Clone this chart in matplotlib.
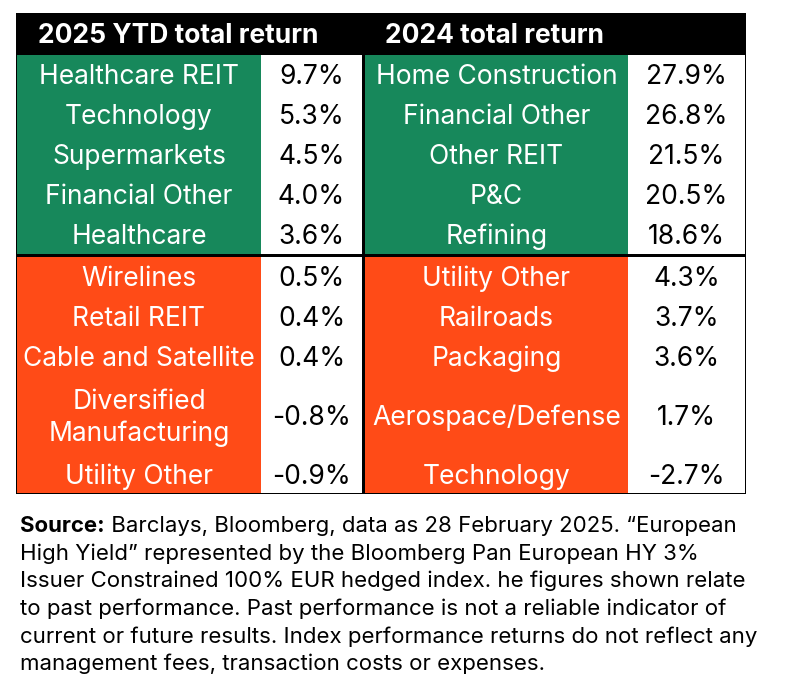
import matplotlib.pyplot as plt
from matplotlib.patches import Rectangle

# Table data
headers = ['2025 YTD total return', '2024 total return']

ytd_names = ['Healthcare REIT', 'Technology', 'Supermarkets', 'Financial Other', 'Healthcare',
             'Wirelines', 'Retail REIT', 'Cable and Satellite', 'Diversified\nManufacturing', 'Utility Other']
ytd_values = [9.7, 5.3, 4.5, 4.0, 3.6, 0.5, 0.4, 0.4, -0.8, -0.9]

y2024_names = ['Home Construction', 'Financial Other', 'Other REIT', 'P&C', 'Refining',
               'Utility Other', 'Railroads', 'Packaging', 'Aerospace/Defense', 'Technology']
y2024_values = [27.9, 26.8, 21.5, 20.5, 18.6, 4.3, 3.7, 3.6, 1.7, -2.7]

footnote_bold = 'Source:'
footnote_lines = [
    ' Barclays, Bloomberg, data as 28 February 2025. \u201cEuropean',
    'High Yield\u201d represented by the Bloomberg Pan European HY 3%',
    'Issuer Constrained 100% EUR hedged index. he figures shown relate',
    'to past performance. Past performance is not a reliable indicator of',
    'current or future results. Index performance returns do not reflect any',
    'management fees, transaction costs or expenses.',
]

GREEN = '#17885B'
ORANGE = '#FF4B17'
FONT = 'Inter'

W, H = 796, 693
fig = plt.figure(figsize=(W / 100, H / 100), dpi=100)
ax = fig.add_axes([0, 0, 1, 1])
ax.set_xlim(0, W)
ax.set_ylim(H, 0)
ax.axis('off')

# layout in pixels
left, right = 16, 746
top, head_bot = 13, 54
row_h = [40, 40, 40, 40, 40, 41, 40, 40, 79, 38]
# column edges: name cell, value cell for each half
cols = [(17, 261, 362), (365, 628, 745)]

# header
ax.add_patch(Rectangle((left, top), right - left, head_bot - top, color='black', lw=0))
ax.text(38, 36, headers[0], color='white', fontsize=19, fontweight='bold',
        family=FONT, va='center', ha='left')
ax.text(385, 36, headers[1], color='white', fontsize=19, fontweight='bold',
        family=FONT, va='center', ha='left')

# body background (black shows through as grid lines)
ax.add_patch(Rectangle((left, head_bot), right - left, 494 - head_bot, color='black', lw=0))

for names, values, (x0, x1, x2) in zip([ytd_names, y2024_names], [ytd_values, y2024_values], cols):
    y = head_bot + 1
    for i, (name, val) in enumerate(zip(names, values)):
        h = row_h[i]
        y0 = y
        y1 = y + h
        if i == 5:
            y0 += 2  # black separator between green and orange blocks
        if i == 4:
            y1 -= 1
        colour = GREEN if i < 5 else ORANGE
        ax.add_patch(Rectangle((x0, y0), x1 - x0, y1 - y0, color=colour, lw=0))
        ax.add_patch(Rectangle((x1, y0), x2 - x1, y1 - y0, color='white', lw=0))
        cy = (y0 + y1) / 2 + 2.5
        ax.text((x0 + x1) / 2, cy, name, color='white', fontsize=19, family=FONT,
                ha='center', va='center', linespacing=1.3)
        ax.text((x1 + x2) / 2, cy, f'{val:.1f}%', color='black', fontsize=19, family=FONT,
                ha='center', va='center')
        y += h

# footnote
fig.canvas.draw()
renderer = fig.canvas.get_renderer()
line_y0, line_step = 526, 27.6
t = ax.text(20, line_y0, footnote_bold, fontsize=16, fontweight='bold', family=FONT,
            va='center', ha='left', color='black')
bb = t.get_window_extent(renderer)
x_after = ax.transData.inverted().transform((bb.x1, bb.y0))[0]
for i, line in enumerate(footnote_lines):
    x = x_after if i == 0 else 20
    ax.text(x, line_y0 + i * line_step, line, fontsize=16, family=FONT,
            va='center', ha='left', color='black')

fig.savefig('out.png', dpi=100)
